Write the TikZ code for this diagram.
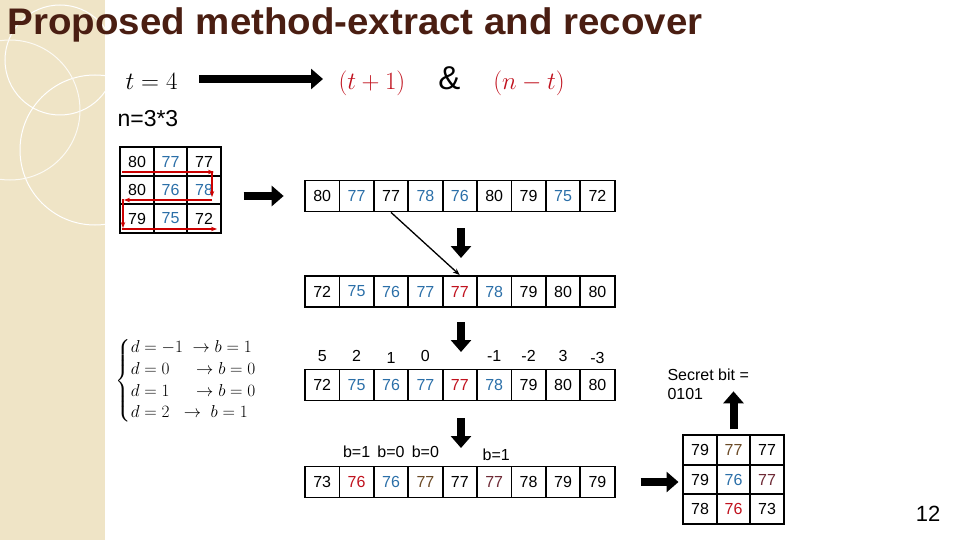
\documentclass[tikz,border=0pt]{standalone}
\usepackage{amsmath}
\usepackage{fontspec}
\setmainfont{Liberation Sans}
\usetikzlibrary{arrows.meta,positioning,calc}
\definecolor{cblue}{HTML}{2B6FA8}
\definecolor{cred}{HTML}{C0121E}
\definecolor{cbrown}{HTML}{6B4A26}
\definecolor{cmaroon}{HTML}{6E2A36}
\definecolor{ctitle}{HTML}{4A1E12}
\definecolor{cside}{HTML}{EFE4C6}
\tikzset{
  cell/.style={draw,line width=1.8pt,minimum width=34.4pt,minimum height=31pt,inner sep=0pt,font=\fontsize{16}{16}\selectfont},
  gcell/.style={cell,minimum width=33.5pt,minimum height=28.5pt},
  lbl/.style={font=\fontsize{16}{16}\selectfont,inner sep=1pt},
  fat/.style={line width=8pt,-{Triangle[length=12pt,width=20pt]}},
  scan/.style={draw=red!80!black,line width=1.6pt,-{Stealth[length=6pt]}}
}
\begin{document}
\begin{tikzpicture}[x=1pt,y=-1pt]
\useasboundingbox (0,0) rectangle (960,540);
% side strip
\fill[cside] (0,0) rectangle (105,540);
\draw[white,line width=1pt] (60,60) circle (55);
\draw[white,line width=1pt] (95,150) circle (75);
\draw[white!80!cside,line width=1pt] (10,110) circle (70);
% title
\node[anchor=west,text=ctitle,font=\fontsize{37}{37}\selectfont\bfseries,xscale=1.04] (title) at (4,25) {Proposed method-extract and recover};
\node[anchor=west,font=\fontsize{30}{30}\selectfont] (t) at (122,81) {$t=4$};
\node[anchor=west,text=cred,font=\fontsize{33}{33}\selectfont] (f) at (335,81) {$(t+1)$\quad\textcolor{black}{$\&$}\quad$(n-t)$};
\node[anchor=west,font=\fontsize{23}{23}\selectfont] (n) at (114,119) {n=3*3};
\draw[fat] (t.east) ++(18,-2) coordinate (f1) -- ($(f.west|-f1)+(-12,0)$);
% left grid
\foreach \v/\c [count=\i from 0] in {80/black,77/cblue,77/black,80/black,76/cblue,78/cblue,79/black,75/cblue,72/black}
  \node[gcell,text=\c] (g\i) at ({137+33.5*mod(\i,3)},{161.5+28.5*floor(\i/3)}) {\v};
\draw[scan] (122,172) -- (214,172);
\draw[scan] (212,171) -- (212,197);
\draw[scan] (212,200) -- (124,200);
\draw[scan] (123,199) -- (123,228);
\draw[scan] (122,229) -- (217,229);
\draw[fat] (g5.east) ++(22,6) coordinate (a1) -- ++(40,0);
% arrays
\foreach \v/\c [count=\i] in {80/black,77/cblue,77/black,78/cblue,76/cblue,80/black,79/black,75/cblue,72/black}
  \node[cell,text=\c] (p\i) at ({305+34.4*\i-17.2},196) {\v};
\foreach \v/\c [count=\i] in {72/black,75/cblue,76/cblue,77/cblue,77/cred,78/cblue,79/black,80/black,80/black}
  \node[cell,text=\c] (s\i) at ({305+34.4*\i-17.2},291.5) {\v};
\foreach \v/\c [count=\i] in {72/black,75/cblue,76/cblue,77/cblue,77/cred,78/cblue,79/black,80/black,80/black}
  \node[cell,text=\c] (d\i) at ({305+34.4*\i-17.2},385) {\v};
\foreach \v/\c [count=\i] in {73/black,76/cred,76/cblue,77/cbrown,77/black,77/cmaroon,78/black,79/black,79/black}
  \node[cell,text=\c] (r\i) at ({305+34.4*\i-17.2},482) {\v};
\draw[line width=1.3pt,-{Stealth[length=7pt]}] (p3.south) -- (s5.north);
\draw[fat] (461,228) -- (461,258);
\draw[fat] (461,322) -- (461,352);
\draw[fat] (461,418) -- (461,448);
% differences
\foreach \v/\k/\dy in {5/1/0,2/2/0,1/3/2,0/4/0,-1/6/0,-2/7/0,3/8/0,-3/9/2}
  \node[lbl] at ($(d\k.north)+(0,-12.5+\dy)$) {\v};
\node[lbl] (b1) at ($(r2.north)+(0,-13.5)$) {b=1};
\node[lbl] (b2) at ($(r3.north)+(0,-13.5)$) {b=0};
\node[lbl] (b3) at ($(r4.north)+(0,-13.5)$) {b=0};
\node[lbl] (b4) at ($(r6.north)+(2,-10.5)$) {b=1};
% rule
\node[anchor=west,font=\fontsize{17}{18}\selectfont] (rule) at (112,381) {$\begin{cases}
d=-1 \ \rightarrow b=1\\ d=0 \quad\ \rightarrow b=0\\ d=1 \quad\ \rightarrow b=0\\ d=2 \ \ \rightarrow \ b=1\end{cases}$};
% right grid
\foreach \v/\c [count=\i from 0] in {79/black,77/cbrown,77/black,79/black,76/cblue,77/cmaroon,78/black,76/cred,73/black}
  \node[gcell,text=\c,minimum height=29.5pt] (h\i) at ({700+33.5*mod(\i,3)},{450+29.5*floor(\i/3)}) {\v};
\draw[fat] (r9.east) ++(25,0) coordinate (a2) -- ++(38,0);
\draw[fat] (h1.north) ++(0,-5) -- ++(0,-38) coordinate (a3);
\node[anchor=west,align=left,font=\fontsize{16}{19}\selectfont] (sb) at (664,384) {Secret bit =\\0101};
\node[font=\fontsize{22}{22}\selectfont] (pg) at (928,514) {12};
\end{tikzpicture}
\end{document}
